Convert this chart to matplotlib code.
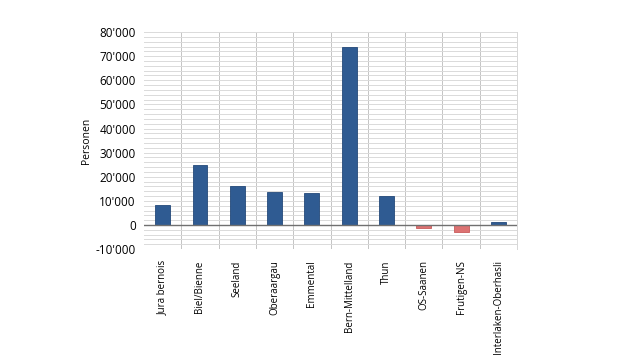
import matplotlib.pyplot as plt
from matplotlib.ticker import FuncFormatter, MultipleLocator

regionen = ['Jura bernois', 'Biel/Bienne', 'Seeland', 'Oberaargau', 'Emmental',
            'Bern-Mittelland', 'Thun', 'OS-Saanen', 'Frutigen-NS', 'Interlaken-Oberhasli']
personen = [8100, 25000, 16200, 13700, 13200, 73700, 12100, -1400, -2700, 1200]

plt.rcParams['font.family'] = ['Open Sans', 'DejaVu Sans']

fig = plt.figure(figsize=(6.4, 3.6), dpi=100)
ax = fig.add_axes([0.225, 0.308, 0.583, 0.603])

farben = ['#2F5B92' if v >= 0 else '#DC7272' for v in personen]
kanten = ['#24497A' if v >= 0 else '#C85A5A' for v in personen]
x = range(len(regionen))
ax.bar(x, personen, width=0.4, color=farben, edgecolor=kanten, linewidth=0.6, zorder=3)

ax.set_xlim(-0.5, len(regionen) - 0.5)
ax.set_ylim(-10000, 80000)
ax.yaxis.set_major_locator(MultipleLocator(10000))
ax.yaxis.set_minor_locator(MultipleLocator(2000))
ax.yaxis.set_major_formatter(FuncFormatter(lambda v, p: f"{int(v):,}".replace(',', "'")))

# Gitter: horizontale Linien + vertikale Trennlinien zwischen Kategorien
ax.grid(axis='y', which='both', color='#DADADA', linewidth=0.7, zorder=0)
for b in range(1, len(regionen)):
    ax.axvline(b - 0.5, color='#C4C4C4', linewidth=0.7, zorder=1)
ax.axhline(0, color='#707070', linewidth=1.0, zorder=4)

ax.set_xticks(list(x))
ax.set_xticklabels(regionen, rotation=90, fontsize=7)
ax.tick_params(axis='both', which='both', length=0)
ax.tick_params(axis='y', labelsize=8.5, pad=6)
ax.tick_params(axis='x', pad=8)
for lbl in ax.get_xticklabels():
    lbl.set_verticalalignment('top')

for s in ['top', 'left', 'bottom']:
    ax.spines[s].set_visible(False)
ax.spines['right'].set_color('#D6D6D6')
ax.spines['right'].set_linewidth(0.7)

ax.set_ylabel('Personen', fontsize=7.5)
ax.yaxis.set_label_coords(-0.14, 0.5)

fig.savefig('out.png', dpi=100)
